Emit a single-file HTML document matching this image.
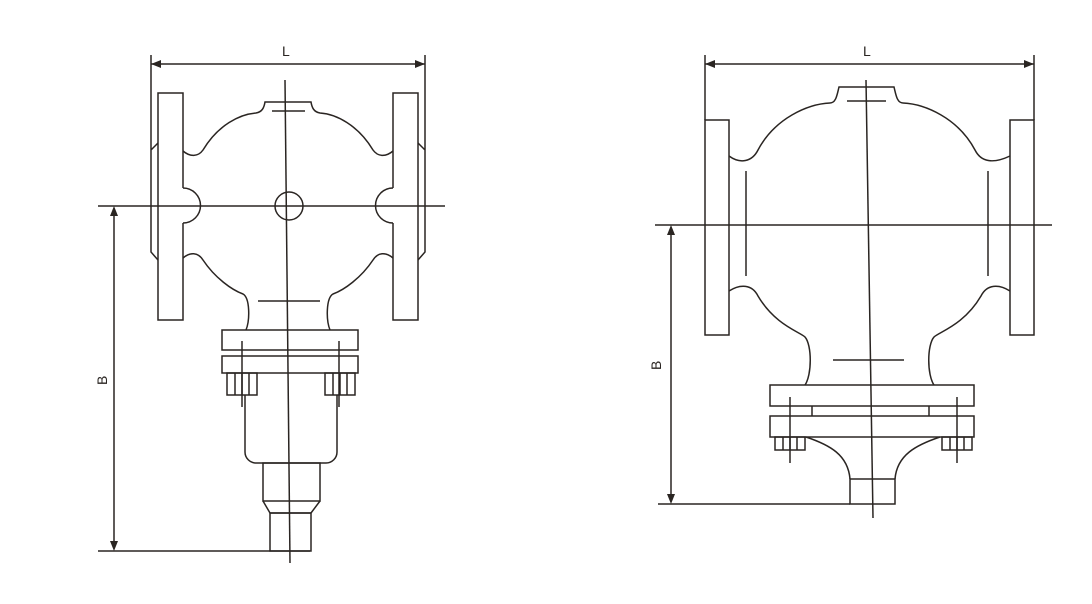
<!DOCTYPE html>
<html><head><meta charset="utf-8"><style>
html,body{margin:0;padding:0;background:#fff;}
svg{display:block;}
text{font-family:"Liberation Sans",sans-serif;font-size:14px;fill:#2a2522;}
</style></head><body>
<svg width="1092" height="604" viewBox="0 0 1092 604" xmlns="http://www.w3.org/2000/svg">
<g fill="none" stroke="#2a2522" stroke-width="1.5">
<!-- ============ LEFT VALVE ============ -->
<path d="M151 55 V150 L158 143 M151 150 V252 L158 260"/>
<path d="M425 55 V150 L418 143 M425 150 V252 L418 260"/>
<line x1="151" y1="64" x2="425" y2="64"/>
<!-- flanges (gap where bump joins) -->
<path d="M183 188 V93 H158 V320 H183 V223"/>
<path d="M393 188 V93 H418 V320 H393 V223"/>
<!-- body -->
<path d="M183 151 C190 157 198 157 203 150 C218 125 240 114 256 113 C262 112 264 108 265 102 H311 C312 108 314 112 320 113 C336 114 358 125 373 150 C378 157 386 157 393 151"/>
<path d="M183 188 A17 17 0 0 1 183 223"/>
<path d="M393 188 A17 17 0 0 0 393 223"/>
<path d="M183 258 C190 252 198 252 203 260 C215 278 232 290 243 294 C250 298 250 320 246 330"/>
<path d="M393 258 C386 252 378 252 373 260 C361 278 344 290 333 294 C326 298 326 320 330 330"/>
<line x1="272" y1="111" x2="305" y2="111"/>
<line x1="258" y1="301" x2="320" y2="301"/>
<circle cx="289" cy="206" r="14"/>
<rect x="222" y="330" width="136" height="20"/>
<rect x="222" y="356" width="136" height="17"/>
<line x1="242" y1="341" x2="242" y2="407"/>
<line x1="339" y1="341" x2="339" y2="407"/>
<rect x="227" y="373" width="30" height="22"/>
<path d="M235 373 V395 M242 373 V395 M249 373 V395"/>
<rect x="325" y="373" width="30" height="22"/>
<path d="M333 373 V395 M340 373 V395 M347 373 V395"/>
<path d="M245 395 V452 A11 11 0 0 0 256 463 H326 A11 11 0 0 0 337 452 V395"/>
<rect x="263" y="463" width="57" height="38"/>
<path d="M263 501 L270 513 H311 L320 501"/>
<rect x="270" y="513" width="41" height="38"/>
<line x1="98" y1="206" x2="445" y2="206"/>
<line x1="285" y1="80" x2="290" y2="563"/>
<line x1="98" y1="551" x2="310" y2="551"/>
<line x1="114" y1="212" x2="114" y2="545"/>

<!-- ============ RIGHT VALVE ============ -->
<line x1="705" y1="55" x2="705" y2="120"/>
<line x1="1034" y1="55" x2="1034" y2="120"/>
<line x1="705" y1="64" x2="1034" y2="64"/>
<rect x="705" y="120" width="24" height="215"/>
<rect x="1010" y="120" width="24" height="215"/>
<path d="M729 156 C740 164 752 162 758 150 C775 118 808 104 830 103 C836 103 837 95 839 87 H894 C896 95 897 103 903 103 C925 104 958 118 975 150 C981 162 993 164 1010 156"/>
<path d="M729 291 C740 284 752 284 758 296 C775 325 800 332 805 337 C812 345 812 375 805 385"/>
<path d="M1010 291 C999 284 987 284 981 296 C964 325 939 332 934 337 C927 345 927 375 934 385"/>
<line x1="746" y1="171" x2="746" y2="276"/>
<line x1="988" y1="171" x2="988" y2="276"/>
<line x1="847" y1="101" x2="886" y2="101"/>
<line x1="833" y1="360" x2="904" y2="360"/>
<rect x="770" y="385" width="204" height="21"/>
<path d="M812 406 V416 M929 406 V416"/>
<rect x="770" y="416" width="204" height="21"/>
<line x1="790" y1="397" x2="790" y2="463"/>
<line x1="957" y1="397" x2="957" y2="463"/>
<rect x="775" y="437" width="30" height="13"/>
<path d="M783 437 V450 M790 437 V450 M797 437 V450"/>
<rect x="942" y="437" width="30" height="13"/>
<path d="M950 437 V450 M957 437 V450 M964 437 V450"/>
<path d="M806 437 C830 445 848 455 850 479 M940 437 C916 445 897 455 895 479"/>
<rect x="850" y="479" width="45" height="25"/>
<line x1="655" y1="225" x2="1052" y2="225"/>
<line x1="866" y1="80" x2="873" y2="518"/>
<line x1="658" y1="504" x2="850" y2="504"/>
<line x1="671" y1="231" x2="671" y2="498"/>
</g>
<g fill="#2a2522">
<path d="M151 64 L161 60 L161 68 Z"/>
<path d="M425 64 L415 60 L415 68 Z"/>
<path d="M114 206 L110 216 L118 216 Z"/>
<path d="M114 551 L110 541 L118 541 Z"/>
<path d="M705 64 L715 60 L715 68 Z"/>
<path d="M1034 64 L1024 60 L1024 68 Z"/>
<path d="M671 225 L667 235 L675 235 Z"/>
<path d="M671 504 L667 494 L675 494 Z"/>
</g>
<text x="282" y="56">L</text>
<text x="863" y="56">L</text>
<text transform="translate(107,385) rotate(-90)">B</text>
<text transform="translate(661,370) rotate(-90)">B</text>
</svg>
</body></html>
